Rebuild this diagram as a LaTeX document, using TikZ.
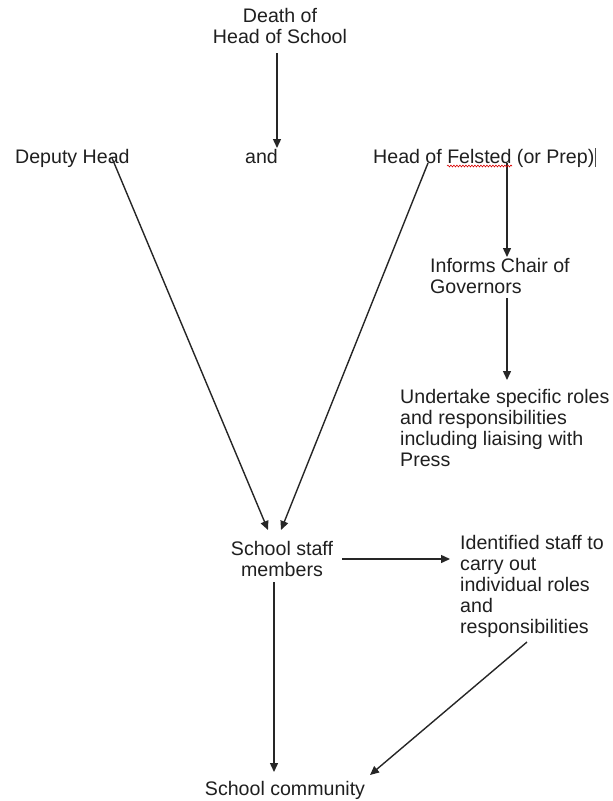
\documentclass[tikz,border=0pt]{standalone}
\usepackage{fontspec}
\setmainfont{Liberation Sans}
\usetikzlibrary{arrows.meta,decorations.pathmorphing}

\begin{document}
\begin{tikzpicture}[x=1pt,y=-1pt,
  lbl/.style={inner sep=0pt, font=\fontsize{19.6}{20.8}\selectfont, text=black!88},
  conn/.style={line width=1.4pt, draw=black!85, -{Triangle[length=9pt,width=8pt]}},
  spell/.style={draw=red!85!black, line width=0.6pt, decorate,
    decoration={snake, amplitude=0.9pt, segment length=3pt}},
  caret/.style={draw=black!70, line width=0.6pt}
]
\useasboundingbox (0,0) rectangle (613,801);

% text blocks (multi-line nodes are placed by the baseline of their last line)
\node[lbl, align=center, anchor=base] (death) at (280,43) {Death of\\Head of School};
\node[lbl, anchor=base west] (deputy) at (15,163) {Deputy Head};
\node[lbl, anchor=base west] (andword) at (245,163) {and};
\node[lbl, anchor=base west] (felsted) at (373,163) {Head of Felsted (or Prep)};
\node[lbl, align=left, anchor=base west] (chair) at (430,293) {Informs Chair of\\Governors};
\node[lbl, align=left, anchor=base west] (roles) at (400,466)
  {Undertake specific roles\\and responsibilities\\including liaising with\\Press};
\node[lbl, align=center, anchor=base] (staff) at (282,576) {School staff\\members};
\node[lbl, align=left, anchor=base west] (ident) at (460,633)
  {Identified staff to\\carry out\\individual roles\\and\\responsibilities};
\node[lbl, anchor=base] (community) at (285,795) {School community};

% connector end points
\coordinate (deathOut) at (277,53);
\coordinate (andIn) at (277,148);
\coordinate (depOut) at (112,158);
\coordinate (staffInL) at (268,530);
\coordinate (felOutL) at (428,163);
\coordinate (staffInR) at (281,530);
\coordinate (felOutR) at (507,163);
\coordinate (chairIn) at (507,257);
\coordinate (chairOut) at (507,298);
\coordinate (rolesIn) at (507,380);
\coordinate (staffOutR) at (342,559);
\coordinate (identIn) at (450,559);
\coordinate (staffOutB) at (274,582);
\coordinate (commIn) at (274,772);
\coordinate (identOut) at (527,642);
\coordinate (commInR) at (370,775);

% connectors
\draw[conn] (deathOut) -- (andIn);
\draw[conn] (depOut) -- (staffInL);
\draw[conn] (felOutL) -- (staffInR);
\draw[conn] (felOutR) -- (chairIn);
\draw[conn] (chairOut) -- (rolesIn);
\draw[conn] (staffOutR) -- (identIn);
\draw[conn] (staffOutB) -- (commIn);
\draw[conn] (identOut) -- (commInR);

% spelling underline and text caret
\coordinate (spellA) at (447,166);
\coordinate (spellB) at (512,166);
\draw[spell] (spellA) -- (spellB);
\coordinate (caretTop) at (595,148);
\coordinate (caretBot) at (595,167);
\draw[caret] (caretTop) -- (caretBot);
\end{tikzpicture}
\end{document}
